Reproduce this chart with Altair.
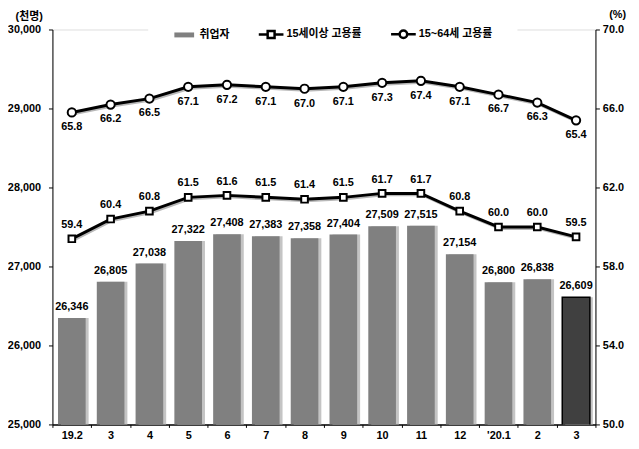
import altair as alt
import pandas as pd

# ---- data ----
month_labels = ["19.2", "3", "4", "5", "6", "7", "8", "9", "10", "11", "12", "'20.1", "2", "3"]
employed = [26346, 26805, 27038, 27322, 27408, 27383, 27358, 27404, 27509, 27515, 27154, 26800, 26838, 26609]
rate_15plus = [59.4, 60.4, 60.8, 61.5, 61.6, 61.5, 61.4, 61.5, 61.7, 61.7, 60.8, 60.0, 60.0, 59.5]
rate_15_64 = [65.8, 66.2, 66.5, 67.1, 67.2, 67.1, 67.0, 67.1, 67.3, 67.4, 67.1, 66.7, 66.3, 65.4]
series_names = ["취업자", "15세이상 고용률", "15~64세 고용률"]

df = pd.DataFrame({
    "idx": list(range(len(month_labels))),
    "employed": employed,
    "r15": rate_15plus,
    "r1564": rate_15_64,
})
df["last"] = df["idx"] == len(month_labels) - 1
legend_df = pd.DataFrame({"series": series_names})

FONT = "Liberation Sans, Noto Sans CJK KR, sans-serif"
label_expr = "[" + ",".join("'" + m.replace("'", "\\'") + "'" for m in month_labels) + "][datum.value]"

x_enc = alt.X(
    "idx:O",
    scale=alt.Scale(paddingInner=0, paddingOuter=0),
    axis=alt.Axis(
        title=None, labelExpr=label_expr, labelAngle=0, tickBand="extent",
        tickSize=3, labelPadding=2, domainColor="black", domainWidth=1.5, tickColor="black",
        labelColor="black", labelFont=FONT, labelFontSize=11, labelFontWeight="bold",
    ),
)

y_left = alt.Y(
    "employed:Q",
    scale=alt.Scale(domain=[25000, 30000], zero=False, nice=False),
    axis=alt.Axis(
        values=[25000, 26000, 27000, 28000, 29000, 30000], format=",d",
        title="(천명)", titleAngle=0, titleX=-24, titleY=-13, titleAlign="center",
        titleBaseline="middle", titleFont=FONT, titleFontSize=11, titleFontWeight="bold",
        titleColor="black", grid=False, tickSize=4, labelPadding=8,
        domainColor="black", tickColor="black", labelColor="black",
        labelFont=FONT, labelFontSize=11, labelFontWeight="bold", orient="left",
    ),
)

base = alt.Chart(df)

bar_shadow = base.mark_bar(size=28, color="#c4c4c4", xOffset=3, clip=True).encode(x=x_enc, y=y_left)
bars = base.mark_bar(size=28, strokeWidth=1.5, clip=True).encode(
    x=x_enc, y=y_left,
    color=alt.condition("datum.last", alt.value("#404040"), alt.value("#808080")),
    stroke=alt.condition("datum.last", alt.value("black"), alt.value("transparent")),
)
bar_text = base.mark_text(dy=-11, baseline="middle", font=FONT, fontSize=11,
                          fontWeight="bold", color="black").encode(
    x=x_enc, y=y_left, text=alt.Text("employed:Q", format=",d"))

bar_layer = alt.layer(bar_shadow, bars, bar_text)

rate_scale = alt.Scale(domain=[50, 70], zero=False, nice=False)
rate_axis = alt.Axis(
    values=[50, 54, 58, 62, 66, 70], format=".1f", orient="right",
    title="(%)", titleAngle=0, titleX=22, titleY=-15, titleAlign="center",
    titleBaseline="middle", titleFont=FONT, titleFontSize=11, titleFontWeight="bold",
    titleColor="black", grid=False, tickSize=4, labelPadding=3,
    domainColor="black", tickColor="black", labelColor="black",
    labelFont=FONT, labelFontSize=11, labelFontWeight="bold",
)

def rate_layers(field, shape, psize, dy):
    y = alt.Y(f"{field}:Q", scale=rate_scale, axis=rate_axis)
    shadow = base.mark_line(color="#b8b8b8", strokeWidth=3, xOffset=1.5, yOffset=1.5).encode(x=x_enc, y=y)
    line = base.mark_line(color="black", strokeWidth=3).encode(x=x_enc, y=y)
    pts = base.mark_point(shape=shape, filled=True, fill="white", stroke="black",
                          strokeWidth=2, size=psize, opacity=1).encode(x=x_enc, y=y)
    txt = base.mark_text(dy=dy, baseline="middle", font=FONT, fontSize=11,
                         fontWeight="bold", color="black").encode(
        x=x_enc, y=y, text=alt.Text(f"{field}:Q", format=".1f"))
    return [shadow, line, pts, txt]

sq = "M-1.25,0H-0.35M0.35,0H1.25M-0.35,-0.35H0.35V0.35H-0.35Z"
ci = "M-1.25,0H-0.38M0.38,0H1.25M0.38,0A0.38,0.38 0 1,1 -0.38,0A0.38,0.38 0 1,1 0.38,0Z"
rect = "M-1,-0.25H1V0.25H-1Z"

legend_layer = alt.Chart(legend_df).transform_filter("false").mark_point(
    filled=True, opacity=1, strokeWidth=2.5).encode(
    shape=alt.Shape("series:N", scale=alt.Scale(domain=series_names, range=[rect, sq, ci]),
                    legend=alt.Legend(
                        title=None, orient="none", legendX=97, legendY=-32,
                        direction="horizontal", fillColor="white", padding=25,
                        symbolSize=400, symbolStrokeWidth=2.5, columnPadding=24,
                        labelOffset=4, labelFont=FONT, labelFontSize=11,
                        labelFontWeight="bold", labelColor="black", symbolOpacity=1)),
    fill=alt.Fill("series:N", scale=alt.Scale(domain=series_names, range=["#808080", "white", "white"])),
    stroke=alt.Stroke("series:N", scale=alt.Scale(domain=series_names, range=["transparent", "black", "black"])),
)

rate_layer = alt.layer(*rate_layers("r15", "square", 45, -14),
                       *rate_layers("r1564", "circle", 70, 15), legend_layer)

chart = alt.layer(bar_layer, rate_layer).resolve_scale(y="independent").properties(
    width=550, height=400,
    padding={"left": 45, "top": 19, "right": 36, "bottom": 14},
    autosize=alt.AutoSizeParams(type="none"),
).configure_view(stroke="black", strokeWidth=1).configure(background="white")

chart.save("out.html", embed_options={"renderer": "svg", "actions": False})
